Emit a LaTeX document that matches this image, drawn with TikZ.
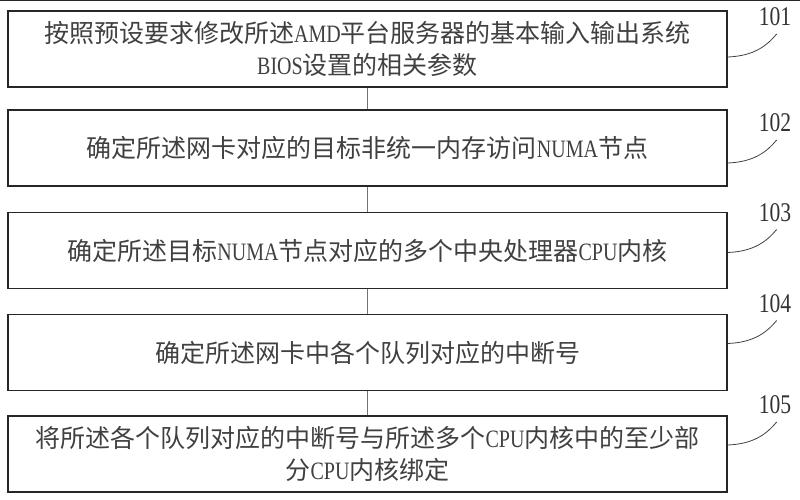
\documentclass[tikz,border=0pt]{standalone}
\usepackage{fontspec}
\setmainfont{Noto Sans CJK SC}
\newfontfamily\latinfont[FakeStretch=0.8]{Liberation Serif}
\newcommand{\lat}[1]{{\latinfont #1}}
\usetikzlibrary{calc}
\tikzset{
  stepbox/.style={draw=black!85, line width=1.3pt, minimum width=719pt, minimum height=76pt,
    inner sep=0pt, align=center, text=black!75, font=\fontsize{25}{32}\selectfont},
  numlabel/.style={text=black!80, inner sep=0pt, font=\latinfont\fontsize{27}{27}\selectfont},
  leader/.style={draw=black!75, line width=0.8pt},
  link/.style={draw=black!55, line width=0.9pt}
}
\newcommand{\stepnode}[3]{\node[stepbox] (#1) at (367.5,#2) {#3};}
\newcommand{\steplabel}[5]{\node[numlabel] (#2) at (775,#3) {#5};
  \coordinate (#2a) at ($(#1.east)+(0,#4)$);
  \coordinate (#2b) at ($(#2a)+(49,-23)$);
  \draw[leader] (#2a) .. controls +(26,-1) and +(-10,12) .. (#2b);}

\begin{document}
\begin{tikzpicture}[x=1pt,y=-1pt]
\useasboundingbox (0,0) rectangle (800,500);
\fill[black!85] (0,0) rectangle (800,1.5);
% step boxes
\stepnode{s1}{49}{按照预设要求修改所述\lat{AMD}平台服务器的基本输入输出系统\\\lat{BIOS}设置的相关参数}
\stepnode{s2}{148}{确定所述网卡对应的目标非统一内存访问\lat{NUMA}节点}
\stepnode{s3}{250.5}{确定所述目标\lat{NUMA}节点对应的多个中央处理器\lat{CPU}内核}
\stepnode{s4}{352.5}{确定所述网卡中各个队列对应的中断号}
\stepnode{s5}{454}{将所述各个队列对应的中断号与所述多个\lat{CPU}内核中的至少部\\分\lat{CPU}内核绑定}
% links between steps
\draw[link] (s1.south) -- (s2.north);
\draw[link] (s2.south) -- (s3.north);
\draw[link] (s3.south) -- (s4.north);
\draw[link] (s4.south) -- (s5.north);
% step numbers
\steplabel{s1}{n1}{17}{8}{101}
\steplabel{s2}{n2}{123}{15}{102}
\steplabel{s3}{n3}{213}{2}{103}
\steplabel{s4}{n4}{304}{-9}{104}
\steplabel{s5}{n5}{405}{-9}{105}
\end{tikzpicture}
\end{document}
